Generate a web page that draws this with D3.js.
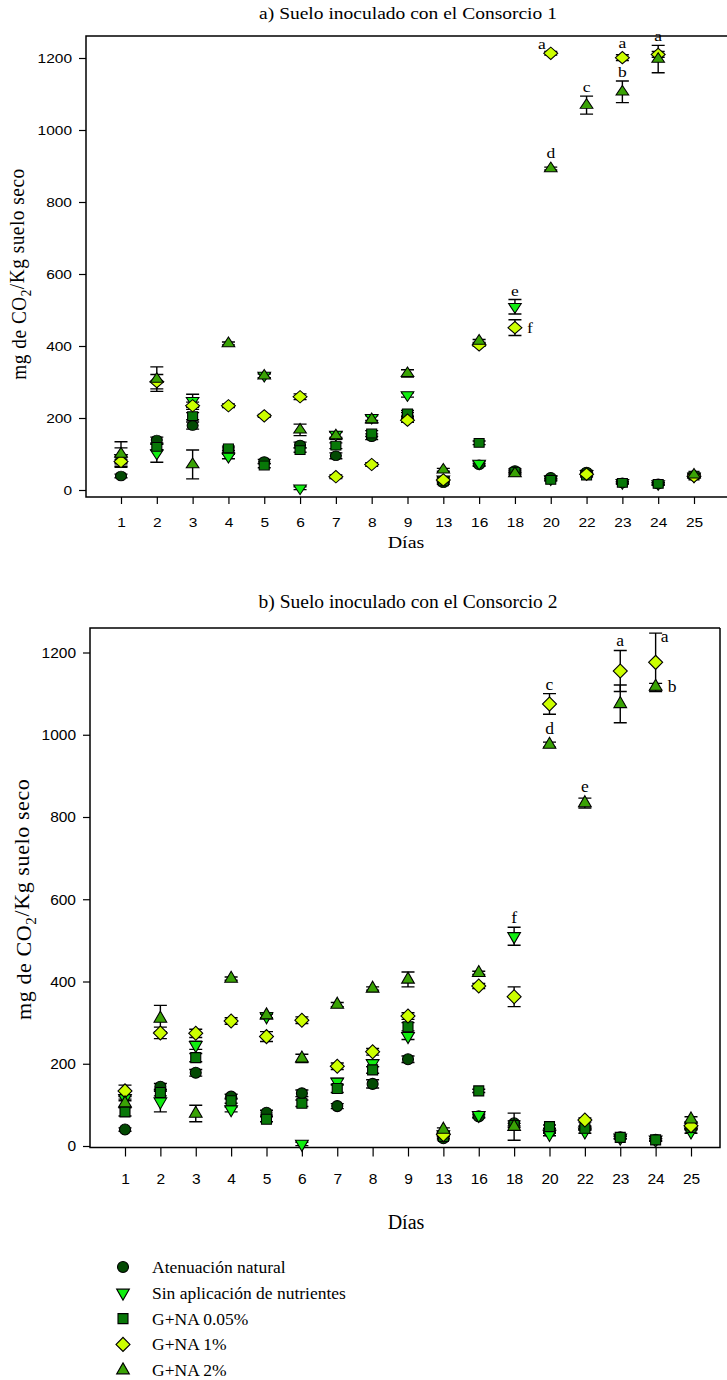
<!DOCTYPE html>
<html>
<head>
<meta charset="utf-8">
<script src="https://cdn.jsdelivr.net/npm/d3@7"></script>
<style>
  body { margin: 0; background: #fff; }
</style>
</head>
<body>
<div id="chart"></div>
<script>
// ---- data ----
const days = ["1", "2", "3", "4", "5", "6", "7", "8", "9", "13", "16", "18", "20", "22", "23", "24", "25"];
const seriesNames = ["Atenuación natural", "Sin aplicación de nutrientes", "G+NA 0.05%", "G+NA 1%", "G+NA 2%"];
const seriesColors = ["#034a03", "#11ee11", "#087808", "#ccff00", "#3aa305"];
const seriesShapes = ["circle", "down", "square", "diamond", "up"];
const yTicks = [0, 200, 400, 600, 800, 1000, 1200];

// a) Consorcio 1
const atenuacion1 = [39, 139, 179, 111, 79, 125, 95, 148, 207, 20, 70, 54, 35, 50, 20, 17, 40];
const atenuacion1Err = [5, 8, 10, 6, 6, 8, 8, 8, 8, 4, 4, 5, 4, 4, 3, 3, 4];
const sinNutrientes1 = [90, 102, 248, 93, 318, 5, 154, 201, 264, 30, 74, 509, 30, 45, 20, 17, 38];
const sinNutrientes1Err = [27, 25, 18, 6, 6, 4, 8, 8, 6, 4, 5, 20, 3, 4, 3, 3, 4];
const gna005_1 = [85, 120, 205, 116, 68, 111, 123, 157, 213, 24, 131, 50, 28, 40, 20, 17, 40];
const gna005_1Err = [8, 8, 10, 6, 6, 6, 8, 8, 8, 4, 5, 5, 3, 4, 3, 3, 4];
const gna1_1 = [79, 301, 234, 234, 206, 259, 37, 71, 194, 28, 403, 451, 1213, 44, 1201, 1210, 38];
const gna1_1Err = [6, 20, 10, 5, 4, 8, 5, 5, 6, 3, 4, 22, 5, 5, 8, 8, 4];
const gna2_1 = [100, 308, 71, 407, 317, 167, 151, 196, 324, 56, 414, 46, 893, 1069, 1106, 1197, 42];
const gna2_1Err = [34, 34, 40, 4, 5, 16, 10, 10, 10, 4, 4, 4, 4, 25, 30, 38, 4];
const letters1 = [
  { day: "18", serie: 1, text: "e", place: "above" },
  { day: "18", serie: 3, text: "f", place: "right" },
  { day: "20", serie: 3, text: "a", place: "left" },
  { day: "20", serie: 4, text: "d", place: "above" },
  { day: "22", serie: 4, text: "c", place: "above" },
  { day: "23", serie: 3, text: "a", place: "above" },
  { day: "23", serie: 4, text: "b", place: "above" },
  { day: "24", serie: 4, text: "a", place: "above" }
];

// b) Consorcio 2
const atenuacion2 = [40, 144, 178, 120, 81, 128, 97, 151, 211, 19, 72, 55, 35, 45, 21, 15, 45];
const atenuacion2Err = [4, 8, 8, 6, 6, 8, 6, 10, 8, 4, 4, 6, 4, 4, 3, 3, 4];
const sinNutrientes2 = [116, 108, 245, 89, 315, 5, 156, 201, 267, 28, 75, 510, 29, 35, 20, 15, 35];
const sinNutrientes2Err = [6, 25, 10, 6, 6, 4, 8, 8, 8, 4, 5, 22, 4, 4, 3, 3, 4];
const gna005_2 = [83, 130, 215, 110, 65, 104, 140, 185, 290, 23, 134, 50, 47, 43, 21, 15, 45];
const gna005_2Err = [10, 8, 10, 6, 6, 8, 10, 8, 10, 4, 4, 5, 4, 4, 3, 3, 4];
const gna1_2 = [134, 275, 274, 304, 266, 306, 194, 229, 316, 28, 389, 363, 1075, 63, 1155, 1176, 49];
const gna1_2Err = [14, 14, 10, 8, 12, 8, 8, 8, 8, 4, 6, 24, 25, 5, 50, 71, 6];
const gna2_2 = [104, 310, 79, 407, 318, 213, 344, 383, 405, 40, 421, 47, 976, 834, 1075, 1117, 65];
const gna2_2Err = [10, 32, 20, 4, 6, 10, 5, 4, 18, 4, 4, 33, 6, 12, 46, 8, 6];
const letters2 = [
  { day: "18", serie: 1, text: "f", place: "above" },
  { day: "20", serie: 3, text: "c", place: "above" },
  { day: "20", serie: 4, text: "d", place: "above" },
  { day: "22", serie: 4, text: "e", place: "above" },
  { day: "23", serie: 3, text: "a", place: "above" },
  { day: "24", serie: 3, text: "a", place: "rightCap" },
  { day: "24", serie: 4, text: "b", place: "right" }
];

// ---- layout ----
const width = 727, height = 1380;
const serif = "'Liberation Serif', 'Times New Roman', serif";
const sans = "'Liberation Sans', Arial, sans-serif";

const svg = d3.select("#chart").append("svg")
  .attr("width", width)
  .attr("height", height)
  .attr("viewBox", [0, 0, width, height]);

// the upper figure is the same plot squeezed vertically (sy)
const panels = [
  {
    title: "a) Suelo inoculado con el Consorcio 1",
    values: [atenuacion1, sinNutrientes1, gna005_1, gna1_1, gna2_1],
    errors: [atenuacion1Err, sinNutrientes1Err, gna005_1Err, gna1_1Err, gna2_1Err],
    letters: letters1,
    left: 86, right: 740, top: 36, axisY: 497,
    xRange: [121, 694], yRange: [490, 58], sy: 0.876,
    titleY: 19, labelX: 26, xLabelY: 527, diasY: 548, tickLen: 7
  },
  {
    title: "b) Suelo inoculado con el Consorcio 2",
    values: [atenuacion2, sinNutrientes2, gna005_2, gna1_2, gna2_2],
    errors: [atenuacion2Err, sinNutrientes2Err, gna005_2Err, gna1_2Err, gna2_2Err],
    letters: letters2,
    left: 90, right: 720, top: 628, axisY: 1147.5,
    xRange: [125, 691], yRange: [1146, 652.5], sy: 1,
    titleY: 608, labelX: 31, xLabelY: 1184, diasY: 1229, tickLen: 9
  }
];

function symbolPath(shape) {
  if (shape === "circle") return d3.symbol(d3.symbolCircle, 95)();
  if (shape === "square") return d3.symbol(d3.symbolSquare, 100)();
  if (shape === "diamond") return d3.symbol(d3.symbolSquare, 98)();
  return d3.symbol(d3.symbolTriangle, 70)();
}
function symbolRotate(shape) {
  if (shape === "diamond") return 45;
  if (shape === "down") return 180;
  return 0;
}

function addText(g, x, y, sy, size, family) {
  return g.append("text")
    .attr("transform", `translate(${x},${y}) scale(1,${sy})`)
    .style("font-family", family)
    .style("font-size", size + "px");
}

panels.forEach(p => {
  const x = d3.scalePoint().domain(days).range(p.xRange);
  const y = d3.scaleLinear().domain([0, 1200]).range(p.yRange);
  const g = svg.append("g");
  const sy = p.sy;

  // title
  addText(g, 408, p.titleY, sy, 19.5, serif)
    .attr("text-anchor", "middle")
    .text(p.title);

  // frame
  const frame = d3.path();
  frame.moveTo(p.right, p.top);
  frame.lineTo(p.left, p.top);
  frame.lineTo(p.left, p.axisY);
  frame.lineTo(p.right, p.axisY);
  if (p.right <= width) frame.lineTo(p.right, p.top);
  g.append("path")
    .attr("d", frame.toString())
    .attr("fill", "none")
    .attr("stroke", "#000")
    .attr("stroke-width", 1.5);

  // y axis
  const yAxis = g.append("g")
    .attr("transform", `translate(${p.left},0)`)
    .call(d3.axisLeft(y).tickValues(yTicks).tickSize(7).tickPadding(7).tickFormat(d3.format("d")));
  yAxis.select(".domain").remove();
  yAxis.selectAll("line").attr("stroke-width", 1.2);
  yAxis.selectAll("text")
    .attr("transform", `scale(1,${sy})`)
    .style("font-family", sans).style("font-size", "15.5px")
    .attr("fill", "#000");

  // x axis
  const xAxis = g.append("g")
    .attr("transform", `translate(0,${p.axisY})`)
    .call(d3.axisBottom(x).tickSize(p.tickLen).tickPadding(0));
  xAxis.select(".domain").remove();
  xAxis.selectAll("line").attr("stroke-width", 1.2);
  xAxis.selectAll("text")
    .attr("y", (p.xLabelY - p.axisY) / sy)
    .attr("dy", null)
    .attr("transform", `scale(1,${sy})`)
    .style("font-family", sans).style("font-size", "15.5px")
    .attr("fill", "#000");

  // axis titles
  addText(g, 406, p.diasY, sy, 20, serif)
    .attr("text-anchor", "middle")
    .text("Días");

  const yMid = (p.yRange[0] + p.yRange[1]) / 2;
  const yl = g.append("text")
    .attr("transform", `translate(${p.labelX},${yMid}) scale(1,${sy}) rotate(-90)`)
    .attr("text-anchor", "middle")
    .style("font-family", serif).style("font-size", "22px")
    .style("letter-spacing", "0.6px");
  yl.append("tspan").text("mg de CO");
  yl.append("tspan").attr("dy", "0.3em").style("font-size", "15px").text("2");
  yl.append("tspan").attr("dy", "-0.3em").text("/Kg suelo seco");

  // points
  const pts = [];
  p.values.forEach((vals, s) => {
    vals.forEach((v, i) => pts.push({ s, day: days[i], v, e: p.errors[s][i] }));
  });

  // error bars (under the markers)
  const eb = g.append("g").attr("stroke", "#000").attr("stroke-width", 1.4).attr("fill", "none");
  eb.selectAll("path")
    .data(pts)
    .join("path")
    .attr("d", d => {
      const cx = x(d.day), y1 = y(d.v + d.e), y2 = y(Math.max(0, d.v - d.e)), c = 6.5;
      return `M${cx},${y1}V${y2}M${cx - c},${y1}H${cx + c}M${cx - c},${y2}H${cx + c}`;
    });

  // markers
  g.append("g")
    .selectAll("path")
    .data(pts)
    .join("path")
    .attr("d", d => symbolPath(seriesShapes[d.s]))
    .attr("transform", d => `translate(${x(d.day)},${y(d.v)}) scale(1,${sy}) rotate(${symbolRotate(seriesShapes[d.s])})`)
    .attr("fill", d => seriesColors[d.s])
    .attr("stroke", "#000")
    .attr("stroke-width", 1.1);

  // significance letters
  p.letters.forEach(d => {
    const i = days.indexOf(d.day);
    const v = p.values[d.serie][i], e = p.errors[d.serie][i];
    const cx = x(d.day), cy = y(v), cap = y(v + e);
    let lx = cx, ly = Math.min(cap, cy - 7 * sy) - 4, anchor = "middle";
    if (d.place === "left") { lx = cx - 5; ly = cy - 4; anchor = "end"; }
    if (d.place === "right") { lx = cx + 12; ly = cy + 5; anchor = "start"; }
    if (d.place === "rightCap") { lx = cx + 5; ly = cap + 9; anchor = "start"; }
    addText(g, lx, ly, sy, 17.5, serif)
      .attr("text-anchor", anchor)
      .text(d.text);
  });
});

// legend
const legend = svg.append("g").attr("transform", "translate(123,1267)");
const items = legend.selectAll("g")
  .data(seriesNames)
  .join("g")
  .attr("transform", (d, i) => `translate(0,${i * 25.8})`);
items.append("path")
  .attr("d", (d, i) => symbolPath(seriesShapes[i]))
  .attr("transform", (d, i) => `rotate(${symbolRotate(seriesShapes[i])})`)
  .attr("fill", (d, i) => seriesColors[i])
  .attr("stroke", "#000")
  .attr("stroke-width", 1.1);
items.append("text")
  .attr("x", 29)
  .attr("y", 6)
  .style("font-family", serif)
  .style("font-size", "17.5px")
  .text(d => d);
</script>
</body>
</html>
